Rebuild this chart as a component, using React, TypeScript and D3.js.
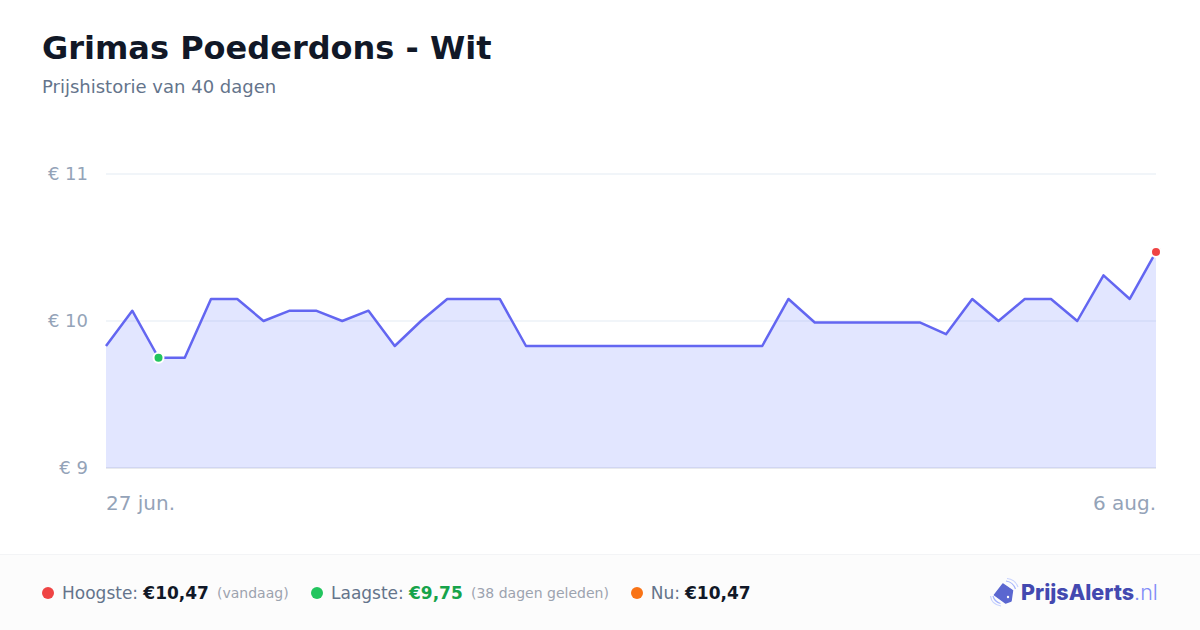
import React from "react";
import * as d3 from "d3";

const prices = [9.83,10.07,9.75,9.75,10.15,10.15,10.0,10.07,10.07,10.0,10.07,9.83,10.0,10.15,10.15,10.15,9.83,9.83,9.83,9.83,9.83,9.83,9.83,9.83,9.83,9.83,10.15,9.99,9.99,9.99,9.99,9.99,9.91,10.15,10.0,10.15,10.15,10.0,10.31,10.15,10.47];
const yTicks = [9, 10, 11];
const xLabels = ["27 jun.", "6 aug."];
const lowIndex = 2;
const highIndex = 40;

const FONT = "'DejaVu Sans', sans-serif";

export default function App() {
  const x = d3.scaleLinear().domain([0, prices.length - 1]).range([106, 1156]);
  const y = d3.scaleLinear().domain([9, 11]).range([468, 174]);
  const line = d3.line<number>().x((_, i) => x(i)).y((d) => y(d));
  const area = d3.area<number>().x((_, i) => x(i)).y0(y(9)).y1((d) => y(d));
  return (
    <svg width={1200} height={630} viewBox="0 0 1200 630" style={{ position: "fixed", left: 0, top: 0, background: "#fff" }} fontFamily={FONT}>
      <text x={42} y={59} fontSize={32} fontWeight={700} fill="#111827">Grimas Poederdons - Wit</text>
      <text x={42} y={93} fontSize={18} fill="#64748b">Prijshistorie van 40 dagen</text>

      {yTicks.map((t) => (
        <g key={t}>
          <line x1={106} x2={1156} y1={y(t)} y2={y(t)} stroke={t === 9 ? "#e8eaee" : "#f1f5f9"} strokeWidth={2} />
          <text x={88} y={y(t) + 6} textAnchor="end" fontSize={18} fill="#94a3b8">€ {t}</text>
        </g>
      ))}
      <path d={area(prices) ?? ""} fill="#8b9cff" fillOpacity={0.25} />
      <path d={line(prices) ?? ""} fill="none" stroke="#6366f1" strokeWidth={2.5} strokeLinejoin="round" />
      <circle cx={x(lowIndex)} cy={y(prices[lowIndex])} r={5} fill="#22c55e" stroke="#fff" strokeWidth={2} />
      <circle cx={x(highIndex)} cy={y(prices[highIndex])} r={5} fill="#ef4444" stroke="#fff" strokeWidth={2} />

      <text x={106} y={510} fontSize={20} fill="#94a3b8">{xLabels[0]}</text>
      <text x={1156} y={510} fontSize={20} textAnchor="end" fill="#94a3b8">{xLabels[1]}</text>

      <rect x={0} y={554} width={1200} height={76} fill="#fcfcfc" />
      <line x1={0} x2={1200} y1={554.5} y2={554.5} stroke="#f3f4f6" />

      <circle cx={48} cy={593} r={6} fill="#ef4444" />
      <text x={62} y={599} fontSize={17} fill="#64748b">Hoogste:</text>
      <text x={143.3} y={599} fontSize={17} fontWeight={700} fill="#111827">€10,47</text>
      <text x={217} y={598} fontSize={14} fill="#9ca3af">(vandaag)</text>

      <circle cx={317} cy={593} r={6} fill="#22c55e" />
      <text x={331} y={599} fontSize={17} fill="#64748b">Laagste:</text>
      <text x={409} y={599} fontSize={17} fontWeight={700} fill="#16a34a">€9,75</text>
      <text x={471} y={598} fontSize={14} fill="#9ca3af">(38 dagen geleden)</text>

      <circle cx={637} cy={593} r={6} fill="#f97316" />
      <text x={650.7} y={599} fontSize={17} fill="#64748b">Nu:</text>
      <text x={685} y={599} fontSize={17} fontWeight={700} fill="#111827">€10,47</text>

      <g>
        <path d="M1003 584 L1012.5 590.5 L1011 601 L1005.5 603 L994.5 595 Z" fill="#5b67d0" stroke="#5b67d0" strokeWidth={1.5} strokeLinejoin="round" />
        <circle cx={1008} cy={597} r={1.2} fill="#fff" />
        <path d="M1006 581 Q1013 582 1015.5 589" fill="none" stroke="#a5b4fc" strokeWidth={1.2} />
        <path d="M1007 578.5 Q1015 579 1018 587" fill="none" stroke="#c7d2fe" strokeWidth={1.2} />
        <path d="M993 596 Q994.5 602 1000.5 603.5" fill="none" stroke="#a5b4fc" strokeWidth={1.2} />
        <path d="M990.5 596 Q991.5 604.5 1001 606" fill="none" stroke="#c7d2fe" strokeWidth={1.2} />
      </g>
      <text x={1021} y={600} fontFamily="Inter, sans-serif" fontSize={21.5} fontWeight={800} fill="#4349b0">PrijsAlerts<tspan fontWeight={300} fill="#818cf8">.nl</tspan></text>
    </svg>
  );
}
